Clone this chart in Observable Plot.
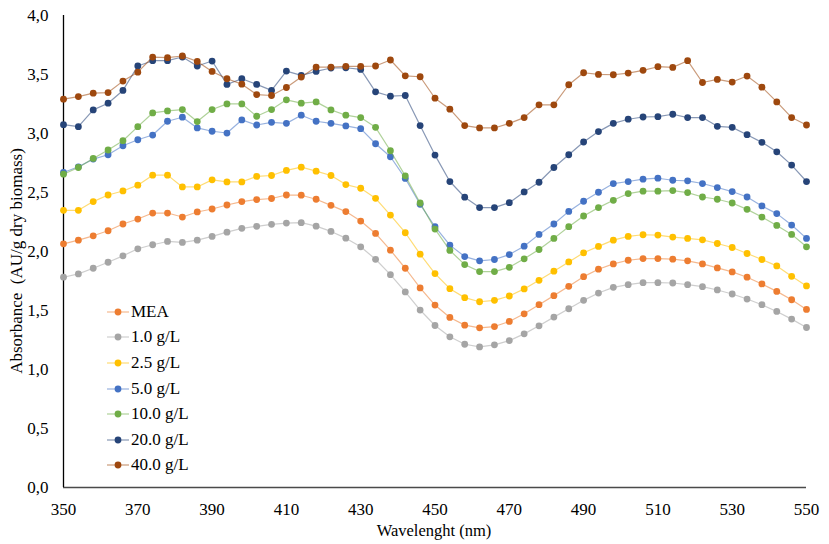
<!DOCTYPE html>
<html><head><meta charset="utf-8">
<script src="https://cdn.jsdelivr.net/npm/d3@7"></script>
<script src="https://cdn.jsdelivr.net/npm/@observablehq/plot@0.6"></script>
<style>
body{margin:0;background:#fff;}
#wrap{position:relative;width:829px;height:544px;font-family:"Liberation Serif","Times New Roman",serif;color:#000;}
#legend{position:absolute;left:106px;top:299px;}
.row{display:flex;align-items:center;height:25.6px;font-size:17px;color:#000;}
.row svg{margin-right:1px;}
#xtitle{position:absolute;left:334px;width:200px;text-align:center;top:521px;font-size:16.5px;line-height:20px;white-space:nowrap;}
#ytitle{position:absolute;left:17px;top:261px;transform:translate(-50%,-50%) rotate(-90deg);font-size:17px;line-height:20px;white-space:pre;}
</style></head><body><div id="wrap"><div id="legend"></div><div id="xtitle"></div><div id="ytitle"></div></div>
<script>
const wavelength = [350,354,358,362,366,370,374,378,382,386,390,394,398,402,406,410,414,418,422,426,430,434,438,442,446,450,454,458,462,466,470,474,478,482,486,490,494,498,502,506,510,514,518,522,526,530,534,538,542,546,550];

const seriesNames = ["MEA","1.0 g/L","2.5 g/L","5.0 g/L","10.0 g/L","20.0 g/L","40.0 g/L"];
const seriesColors = ["#ED7D31","#A5A5A5","#FFC000","#4472C4","#70AD47","#264478","#9E480E"];

const mea = [2.065,2.096,2.133,2.176,2.233,2.275,2.326,2.326,2.292,2.335,2.360,2.394,2.423,2.440,2.449,2.479,
  2.477,2.443,2.391,2.338,2.258,2.153,2.011,1.858,1.691,1.546,1.441,1.376,1.353,1.364,1.407,1.472,
  1.549,1.626,1.705,1.787,1.850,1.895,1.926,1.940,1.940,1.935,1.921,1.895,1.861,1.827,1.782,1.725,1.662,1.591,1.509];
const g1_0 = [1.782,1.810,1.858,1.909,1.963,2.023,2.057,2.085,2.077,2.096,2.128,2.164,2.196,2.213,2.230,2.241,
  2.244,2.215,2.170,2.113,2.040,1.934,1.804,1.657,1.504,1.373,1.277,1.214,1.191,1.209,1.245,1.302,
  1.370,1.444,1.515,1.586,1.648,1.696,1.719,1.736,1.736,1.733,1.719,1.702,1.674,1.640,1.597,1.549,1.492,1.427,1.356];
const g2_5 = [2.349,2.349,2.423,2.479,2.513,2.562,2.647,2.647,2.547,2.547,2.607,2.590,2.590,2.636,2.644,2.687,
  2.715,2.681,2.644,2.567,2.536,2.451,2.309,2.159,1.977,1.813,1.685,1.609,1.574,1.586,1.623,1.683,
  1.756,1.833,1.912,1.989,2.043,2.096,2.128,2.142,2.139,2.122,2.111,2.099,2.068,2.034,1.983,1.932,1.878,1.790,1.708];
const g5_0 = [2.670,2.718,2.783,2.820,2.896,2.947,2.987,3.104,3.138,3.047,3.019,3.004,3.115,3.072,3.095,3.086,
  3.155,3.104,3.086,3.064,3.041,2.913,2.803,2.619,2.400,2.210,2.054,1.957,1.921,1.932,1.974,2.045,
  2.145,2.233,2.340,2.426,2.502,2.576,2.593,2.613,2.621,2.604,2.599,2.576,2.542,2.508,2.462,2.386,2.321,2.224,2.111];
const g10_0 = [2.655,2.712,2.789,2.860,2.939,3.058,3.174,3.191,3.203,3.101,3.203,3.251,3.251,3.146,3.203,3.285,
  3.257,3.268,3.200,3.155,3.135,3.052,2.854,2.641,2.411,2.190,2.009,1.889,1.830,1.830,1.866,1.938,
  2.017,2.111,2.210,2.301,2.372,2.434,2.491,2.511,2.511,2.516,2.499,2.462,2.443,2.411,2.357,2.292,2.221,2.145,2.040];
const g20_0 = [3.075,3.058,3.200,3.257,3.365,3.572,3.617,3.617,3.648,3.572,3.614,3.416,3.464,3.416,3.365,3.529,
  3.492,3.526,3.555,3.557,3.543,3.353,3.316,3.322,3.067,2.817,2.593,2.460,2.372,2.372,2.414,2.505,
  2.587,2.712,2.820,2.928,3.016,3.086,3.121,3.140,3.143,3.163,3.135,3.135,3.061,3.052,2.990,2.925,2.845,2.732,2.593];
const g40_0 = [3.291,3.313,3.342,3.347,3.444,3.520,3.648,3.643,3.657,3.611,3.526,3.464,3.418,3.330,3.322,3.390,
  3.478,3.563,3.563,3.569,3.569,3.572,3.623,3.489,3.481,3.299,3.206,3.067,3.047,3.047,3.086,3.135,
  3.243,3.243,3.413,3.515,3.501,3.498,3.512,3.535,3.566,3.560,3.617,3.432,3.458,3.436,3.487,3.393,3.268,3.135,3.072];

const xTicks = [350,370,390,410,430,450,470,490,510,530,550];
const yTicks = [0,0.5,1,1.5,2,2.5,3,3.5,4];
const xTitle = "Wavelenght (nm)";
const yTitle = "Absorbance  (AU/g dry biomass)";

const seriesValues = [mea, g1_0, g2_5, g5_0, g10_0, g20_0, g40_0];
const rows = [];
seriesNames.forEach((name, i) => {
  seriesValues[i].forEach((v, j) => rows.push({series: name, color: seriesColors[i], wl: wavelength[j], v}));
});

const marks = [
  Plot.axisY({ticks: yTicks, tickSize: 0, tickPadding: 15, fontSize: 17, tickFormat: d => d.toFixed(1).replace(".", ","), label: null}),
  Plot.axisX({ticks: xTicks, tickSize: 0, tickPadding: 15, fontSize: 17, tickFormat: d => String(d), label: null}),
  Plot.ruleY([0], {stroke: "#4a4a4a", strokeWidth: 1.3}),
  Plot.ruleX([350], {stroke: "#000", strokeWidth: 1.3})
];
seriesNames.forEach(name => {
  const d = rows.filter(r => r.series === name);
  marks.push(Plot.line(d, {x: "wl", y: "v", stroke: "color", strokeWidth: 1.2, strokeOpacity: 0.55}));
  marks.push(Plot.dot(d, {x: "wl", y: "v", fill: "color", r: 3.4}));
});

const chart = Plot.plot({
  width: 829, height: 544,
  marginLeft: 63, marginRight: 23, marginTop: 15, marginBottom: 57,
  style: {fontFamily: "Liberation Serif, serif", fontSize: "17px", color: "#000", background: "#fff", overflow: "visible"},
  x: {domain: [350, 550]},
  y: {domain: [0, 4]},
  color: {type: "identity"},
  marks
});
document.getElementById("wrap").prepend(chart);

document.getElementById("xtitle").textContent = xTitle;
document.getElementById("ytitle").textContent = yTitle;

const legend = document.getElementById("legend");
seriesNames.forEach((name, i) => {
  const row = document.createElement("div");
  row.className = "row";
  const c = seriesColors[i];
  row.innerHTML = `<svg width="24" height="10"><line x1="1" y1="5" x2="23" y2="5" stroke="${c}" stroke-width="1.2" stroke-opacity="0.55"/><circle cx="12" cy="5" r="3.4" fill="${c}"/></svg><span>${name}</span>`;
  legend.appendChild(row);
});
</script>
</body></html>
